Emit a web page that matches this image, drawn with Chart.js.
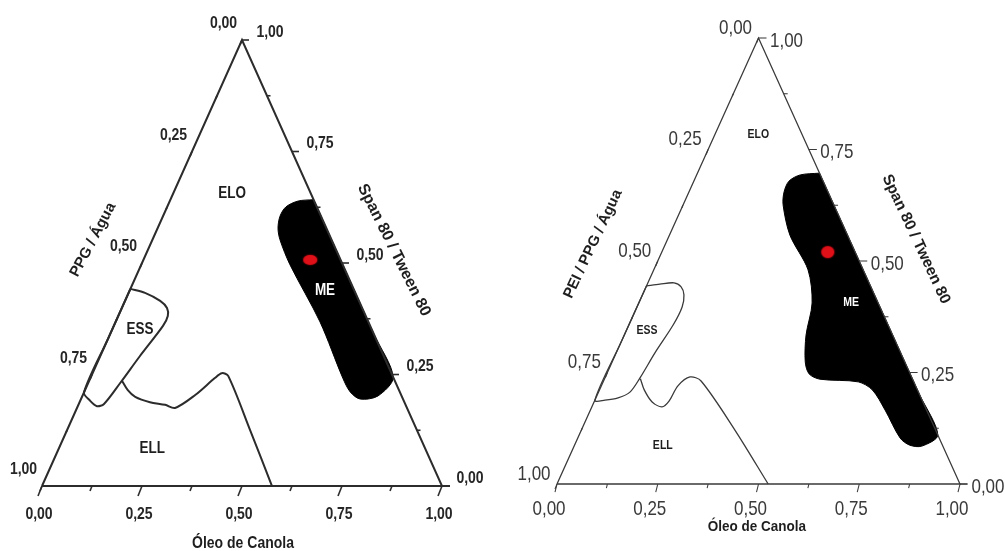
<!DOCTYPE html>
<html lang="pt">
<head>
<meta charset="UTF-8">
<title>Diagramas de fases pseudoternários</title>
<style>
  html, body { margin: 0; padding: 0; background: #fff; }
  #wrap { position: relative; width: 1005px; height: 551px; overflow: hidden; }
  canvas { position: absolute; top: 0; }
  #left { left: 0; }
  #right { left: 502px; }
</style>
<script src="https://cdn.jsdelivr.net/npm/chart.js@4.4.6/dist/chart.umd.min.js"></script>
</head>
<body>
<div id="wrap">
  <canvas id="left" width="502" height="551"></canvas>
  <canvas id="right" width="503" height="551"></canvas>
</div>
<script>
// axis ticks, shared by both diagrams
const tickValues = [0, 0.25, 0.5, 0.75, 1];
const tickLabels = ['0,00', '0,25', '0,50', '0,75', '1,00'];
const minorTicks = [0.125, 0.375, 0.625, 0.875];
const regionNames = ['ELO', 'ME', 'ESS', 'ELL'];

// points are [oleo, tensoativo] fractions, the aqueous phase is the rest
// diagram 1 : PPG / Agua
const titlesPPG = ['Óleo de Canola', 'PPG / Água', 'Span 80 / Tween 80'];
const mePPG = [[0.358, 0.642], [0.321, 0.639], [0.297, 0.626], [0.2925, 0.605], [0.301, 0.578],
  [0.319, 0.552], [0.372, 0.496], [0.511, 0.368], [0.631, 0.242], [0.665, 0.211], [0.698, 0.195],
  [0.739, 0.202], [0.756, 0.244], [0.66, 0.34], [0.56, 0.44], [0.46, 0.54], [0.358, 0.642]];
const essPPG = [[0, 0.442], [0.041, 0.433], [0.088, 0.415], [0.113, 0.399], [0.124, 0.381],
  [0.123, 0.359], [0.099, 0.291], [0.080, 0.231], [0.063, 0.184], [0.048, 0.179], [0.025, 0.191],
  [0, 0.21], [0, 0.33], [0, 0.442]];
const ellPPG = [[0.082, 0.236], [0.107, 0.215], [0.133, 0.200], [0.176, 0.188], [0.217, 0.182],
  [0.245, 0.175], [0.281, 0.204], [0.311, 0.242], [0.323, 0.253], [0.342, 0.247], [0.457, 0.126],
  [0.575, 0]];
const dropPPG = [[0.417, 0.507]];

// diagram 2 : PEI / PPG / Agua
const titlesPEI = ['Óleo de Canola', 'PEI / PPG / Água', 'Span 80 / Tween 80'];
const mePEI = [[0.303, 0.697], [0.257, 0.693], [0.236, 0.679], [0.236, 0.655], [0.248, 0.626],
  [0.299, 0.558], [0.383, 0.480], [0.430, 0.406], [0.451, 0.334], [0.479, 0.274], [0.502, 0.247],
  [0.535, 0.235], [0.633, 0.229], [0.677, 0.211], [0.731, 0.166], [0.800, 0.103], [0.832, 0.087],
  [0.863, 0.085], [0.89, 0.11], [0.80, 0.20], [0.70, 0.30], [0.60, 0.40], [0.50, 0.50],
  [0.40, 0.60], [0.303, 0.697]];
const essPEI = [[0, 0.444], [0.031, 0.448], [0.065, 0.451], [0.087, 0.442], [0.103, 0.424],
  [0.112, 0.397], [0.110, 0.357], [0.096, 0.294], [0.087, 0.238], [0.078, 0.206], [0.055, 0.193],
  [0.025, 0.188], [0, 0.188], [0, 0.32], [0, 0.444]];
const ellPEI = [[0.089, 0.236], [0.111, 0.211], [0.144, 0.184], [0.174, 0.173], [0.185, 0.186],
  [0.190, 0.220], [0.210, 0.240], [0.242, 0.231], [0.381, 0.121], [0.524, 0]];
const dropPEI = [[0.412, 0.520]];

const triangle = [[0, 0], [1, 0], [0, 1], [0, 0]];

// ternary -> cartesian
function toXY(p) {
    return { x: p[0] + p[1] / 2, y: p[1] };
}

const SANS = '"Liberation Sans", Arial, sans-serif';

const panels = [
    {
        id: 'left', titles: titlesPPG, me: mePPG, ess: essPPG, ell: ellPPG, drop: dropPPG,
        xRange: [-0.105, 1.15], yRange: [-0.1457, 1.0897],
        line: '#2c2c2c', lineWidth: 2, tension: 0.3,
        dropSize: [14, 10],
        tickFont: 'bold 14px ' + SANS, tickColor: '#262626', stretch: 1.2,
        tickDir: { bottom: [-4, 10], left: [-2, 5], right: [7, 0] },
        labelOff: { bottom: [-3, 28], left: [-18.5, -16.5], right: [28, -8] },
        baseExtra: 8,
        bottomFont: 'bold 14px ' + SANS,
        sideFonts: ['bold 15px ' + SANS, 'bold 16px ' + SANS],
        titleAt: [[0.5025, -0.130], [0.1275, 0.552], [0.88, 0.529]],
        titleAngles: [0, -62, 63.5],
        regionFont: 'bold 13.5px ' + SANS,
        regionAt: [[0.148, 0.655], [0.488, 0.439], [0.070, 0.350], [0.234, 0.083]]
    },
    {
        id: 'right', titles: titlesPEI, me: mePEI, ess: essPEI, ell: ellPEI, drop: dropPEI,
        xRange: [-0.1365, 1.1117], yRange: [-0.1502, 1.0852],
        line: '#3a3a3a', lineWidth: 1.3, tension: 0.3,
        dropSize: [13, 12],
        tickFont: '17px ' + SANS, tickColor: '#3a3a3a', stretch: 1.2,
        tickDir: { bottom: [-2, 8], left: [-2, 5], right: [8, 0] },
        labelOff: { bottom: [-8, 25], left: [-23, -10], right: [28, 3] },
        baseExtra: 7,
        bottomFont: 'bold 13.5px ' + SANS,
        sideFonts: ['bold 15px ' + SANS, 'bold 15.5px ' + SANS],
        titleAt: [[0.496, -0.0964], [0.0893, 0.538], [0.891, 0.549]],
        titleAngles: [0, -64.7, 64.8],
        regionFont: 'bold 10.5px ' + SANS,
        regionAt: [[0.108, 0.783], [0.526, 0.408], [0.051, 0.345], [0.219, 0.087]]
    }
];

function dropImage(w, h) {
    const c = document.createElement('canvas');
    c.width = w + 6;
    c.height = h + 6;
    const g = c.getContext('2d');
    g.fillStyle = '#e01019';
    g.shadowColor = 'rgba(200,10,20,0.8)';
    g.shadowBlur = 2;
    g.beginPath();
    g.ellipse(c.width / 2, c.height / 2, w / 2, h / 2, 0, 0, Math.PI * 2);
    g.fill();
    return c;
}

function drawText(ctx, str, x, y, font, color, stretch, angle) {
    ctx.save();
    ctx.translate(x, y);
    if (angle) ctx.rotate(angle * Math.PI / 180);
    ctx.scale(1, stretch || 1);
    ctx.font = font;
    ctx.fillStyle = color;
    ctx.textAlign = 'center';
    ctx.textBaseline = 'middle';
    ctx.fillText(str, 0, 0);
    ctx.restore();
}

// edge point for a tick value on each side of the triangle
const edgePoint = {
    bottom: v => [v, 0],        // oleo
    left: v => [0, 1 - v],      // fase aquosa
    right: v => [1 - v, v]      // tensoativos
};

function decorPlugin(p) {
    return {
        id: 'decor_' + p.id,
        afterDatasetsDraw(chart) {
            const ctx = chart.ctx;
            const sx = chart.scales.x, sy = chart.scales.y;
            const pix = c => {
                const q = toXY(c);
                return [sx.getPixelForValue(q.x), sy.getPixelForValue(q.y)];
            };

            // tick marks
            ctx.save();
            ctx.strokeStyle = p.line;
            ctx.lineWidth = p.lineWidth * 0.8;
            for (const side of ['bottom', 'left', 'right']) {
                const d = p.tickDir[side];
                const ticks = tickValues.map(v => [v, 1]).concat(minorTicks.map(v => [v, 0.5]));
                ticks.forEach(([v, k]) => {
                    const [x, y] = pix(edgePoint[side](v));
                    ctx.beginPath();
                    ctx.moveTo(x, y);
                    ctx.lineTo(x + d[0] * k, y + d[1] * k);
                    ctx.stroke();
                });
            }
            // base axis runs a little past the right corner
            const [bx, by] = pix([1, 0]);
            ctx.lineWidth = p.lineWidth;
            ctx.beginPath();
            ctx.moveTo(bx, by);
            ctx.lineTo(bx + p.baseExtra, by);
            ctx.stroke();
            ctx.restore();

            // tick labels
            for (const side of ['bottom', 'left', 'right']) {
                const o = p.labelOff[side];
                tickValues.forEach((v, i) => {
                    const [x, y] = pix(edgePoint[side](v));
                    drawText(ctx, tickLabels[i], x + o[0], y + o[1], p.tickFont, p.tickColor, p.stretch);
                });
            }

            // axis titles
            p.titles.forEach((t, i) => {
                const at = p.titleAt[i];
                const x = sx.getPixelForValue(at[0]), y = sy.getPixelForValue(at[1]);
                if (i === 0) {
                    drawText(ctx, t, x, y, p.bottomFont, '#1e1e1e', 1.15);
                } else {
                    drawText(ctx, t, x, y, p.sideFonts[i - 1], '#1e1e1e', 1, p.titleAngles[i]);
                }
            });

            // region names
            regionNames.forEach((n, i) => {
                const [x, y] = pix(p.regionAt[i]);
                drawText(ctx, n, x, y, p.regionFont, n === 'ME' ? '#ffffff' : '#1e1e1e', p.stretch);
            });
        }
    };
}

panels.forEach(p => {
    const outline = (data, extra) => Object.assign({
        data: data.map(toXY),
        borderColor: p.line,
        borderWidth: p.lineWidth,
        pointRadius: 0,
        fill: false,
        tension: p.tension
    }, extra);

    new Chart(document.getElementById(p.id), {
        type: 'line',
        data: {
            datasets: [
                {
                    data: p.drop.map(toXY),
                    showLine: false,
                    pointStyle: dropImage(p.dropSize[0], p.dropSize[1]),
                    pointRadius: 6,
                    order: 0
                },
                outline(triangle, { tension: 0, order: 1 }),
                outline(p.me, { borderColor: '#000', backgroundColor: '#000', borderWidth: 1, fill: 'shape', order: 2 }),
                outline(p.ess, { order: 3 }),
                outline(p.ell, { order: 3 })
            ]
        },
        options: {
            responsive: false,
            devicePixelRatio: 1,
            animation: false,
            events: [],
            layout: { padding: 0, autoPadding: false },
            plugins: { legend: { display: false }, tooltip: { enabled: false } },
            scales: {
                x: { type: 'linear', display: false, min: p.xRange[0], max: p.xRange[1] },
                y: { type: 'linear', display: false, min: p.yRange[0], max: p.yRange[1] }
            }
        },
        plugins: [decorPlugin(p)]
    });
});
</script>
</body>
</html>
